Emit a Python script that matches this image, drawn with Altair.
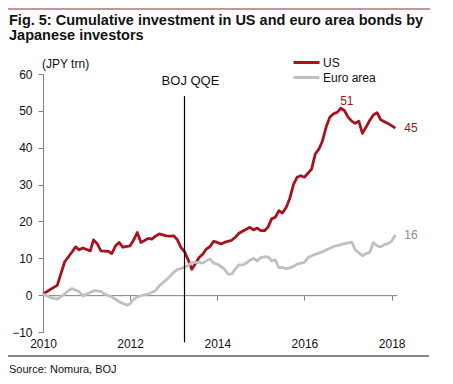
import altair as alt
import pandas as pd

FONT = "Liberation Sans, Arial, sans-serif"

# ---- data ----
us_dates = ["2010-01","2010-04","2010-05","2010-07","2010-09","2010-10","2010-11","2010-12",
            "2011-02","2011-03","2011-04","2011-05","2011-07","2011-08","2011-09","2011-10","2011-11",
            "2012-01","2012-02","2012-03","2012-04","2012-06","2012-07","2012-08","2012-09","2012-11","2012-12",
            "2013-01","2013-02","2013-03","2013-04","2013-05","2013-06","2013-07","2013-08","2013-09","2013-10","2013-11","2013-12",
            "2014-01","2014-02","2014-03","2014-05","2014-06","2014-07","2014-09","2014-10","2014-11","2014-12",
            "2015-01","2015-02","2015-03","2015-04","2015-05","2015-06","2015-07","2015-08","2015-09","2015-10","2015-11","2015-12",
            "2016-01","2016-03","2016-04","2016-05","2016-06","2016-07","2016-08","2016-09","2016-10","2016-11","2016-12",
            "2017-01","2017-02","2017-03","2017-04","2017-05","2017-06","2017-07","2017-08","2017-09","2017-10","2017-12",
            "2018-01","2018-02"]
us_values = [0.3, 2.1, 2.7, 9.0, 11.7, 13.1, 12.3, 12.8,
             12.0, 15.0, 13.9, 12.0, 11.9, 11.3, 13.4, 14.3, 13.0,
             13.4, 15.0, 17.0, 14.3, 15.4, 15.2, 16.0, 16.6, 16.1, 16.0,
             16.1, 15.0, 13.0, 11.8, 9.6, 7.0, 8.5, 10.2, 11.1, 12.5, 13.2, 14.6,
             14.3, 13.9, 14.3, 14.9, 15.7, 16.8, 17.9, 18.4, 17.7, 18.2,
             17.5, 17.5, 18.4, 20.7, 21.1, 22.9, 22.3, 23.8, 26.3, 30.0, 32.0, 32.4,
             32.0, 34.2, 38.3, 39.6, 41.9, 45.6, 48.3, 49.2, 49.6, 50.7, 50.1,
             48.3, 47.2, 46.6, 47.2, 43.9, 45.6, 47.4, 48.9, 49.5, 47.6, 46.6,
             46.0, 45.3]

eu_dates = ["2010-01","2010-03","2010-05","2010-07","2010-08","2010-09","2010-11","2010-12",
            "2011-02","2011-03","2011-05","2011-06","2011-08","2011-09","2011-10","2011-12",
            "2012-01","2012-02","2012-03","2012-05","2012-06","2012-08","2012-09","2012-11","2012-12",
            "2013-01","2013-02","2013-03","2013-04","2013-05","2013-06","2013-08","2013-09","2013-10","2013-11","2013-12",
            "2014-01","2014-03","2014-04","2014-05","2014-06","2014-07","2014-08","2014-09","2014-10","2014-11","2014-12",
            "2015-01","2015-02","2015-03","2015-04","2015-05","2015-06","2015-07","2015-08","2015-09","2015-10","2015-11",
            "2016-01","2016-02","2016-04","2016-05","2016-06","2016-08","2016-09","2016-11","2016-12",
            "2017-02","2017-03","2017-05","2017-06","2017-07","2017-08","2017-09","2017-10","2017-11","2017-12",
            "2018-01","2018-02"]
eu_values = [0.3, -0.6, -1.1, 0.3, 1.2, 1.8, 0.9, -0.2,
             0.7, 1.2, 1.0, 0.3, -0.5, -1.1, -1.8, -2.7,
             -2.4, -1.1, -0.5, 0.1, 0.3, 1.2, 2.5, 4.2, 5.1,
             6.2, 7.0, 7.2, 7.6, 8.0, 8.9, 8.9, 8.7, 9.3, 9.8, 8.7,
             8.4, 7.1, 5.7, 5.7, 7.1, 8.2, 8.2, 8.7, 9.5, 10.0, 9.3,
             10.2, 10.4, 10.4, 9.3, 9.6, 7.5, 7.5, 7.2, 7.4, 7.8, 8.4,
             8.9, 10.2, 11.1, 11.4, 11.8, 12.7, 13.2, 13.7, 14.0,
             14.4, 12.3, 10.7, 11.3, 11.6, 14.3, 13.4, 13.1, 13.7, 14.0,
             14.6, 16.4]

series_names = ["US", "Euro area"]
series_colors = ["#A8121C", "#C0C0C0"]
label_colors = ["#A8121C", "#8C8C8C"]
y_ticks = [-10, 0, 10, 20, 30, 40, 50, 60]
x_tick_years = [2010, 2012, 2014, 2016, 2018]
qqe_date = ["2013-04-01"]
qqe_top = [54]
qqe_bottom = [-12.8]
qqe_label = ["BOJ QQE"]
title_lines = ["Fig. 5: Cumulative investment in US and euro area bonds by", "Japanese investors"]
unit_label = "(JPY trn)"
source_text = "Source: Nomura, BOJ"

assert len(us_dates) == len(us_values) and len(eu_dates) == len(eu_values)

df = pd.concat([
    pd.DataFrame({"date": us_dates, "value": us_values, "series": series_names[0]}),
    pd.DataFrame({"date": eu_dates, "value": eu_values, "series": series_names[1]}),
], ignore_index=True)

us_df = df[df.series == "US"]
eu_df = df[df.series == "Euro area"]
peak = us_df.loc[[us_df.value.idxmax()]].copy()
peak["label"] = peak.value.round().astype(int).astype(str)
ends = pd.concat([us_df.tail(1), eu_df.tail(1)]).copy()
ends["label"] = ends.value.round().astype(int).astype(str)

W, H = 354, 258
zero_offset = H * 60 / 70 - H  # move the x axis line up to y = 0

x_scale = alt.Scale(type="utc",
                    domain=[alt.DateTime(year=2010, month=1, date=1, utc=True),
                            alt.DateTime(year=2018, month=2, date=15, utc=True)])
y_scale = alt.Scale(domain=[-10, 60], nice=False)
color_scale = alt.Scale(domain=series_names, range=series_colors)
label_color_scale = alt.Scale(domain=series_names, range=label_colors)

x_axis = alt.Axis(values=[alt.DateTime(year=y, month=1, date=1, utc=True) for y in x_tick_years],
                  format="%Y", title=None, grid=False, offset=zero_offset, labelOverlap=False,
                  labelFlush=False, domainColor="#808080", tickColor="#808080", tickSize=5,
                  labelPadding=38, labelFontSize=12, labelColor="#111111", labelFont=FONT)
y_axis = alt.Axis(values=y_ticks, title=None, grid=False,
                  labelOverlap=False, domainColor="#808080", tickColor="#808080", tickSize=5,
                  labelPadding=6, labelFontSize=12, labelColor="#111111", labelFont=FONT)


def X(field):
    return alt.X(field, scale=x_scale, axis=x_axis)


def Y(field):
    return alt.Y(field, scale=y_scale, axis=y_axis)


lines = alt.Chart(df).mark_line(strokeWidth=2.8, strokeJoin="round").encode(
    x=X("date:T"),
    y=Y("value:Q"),
    color=alt.Color("series:N", scale=color_scale, sort=series_names,
                    legend=alt.Legend(orient="none", legendX=255, legendY=-20, title=None,
                                      symbolType="M-1.857,0H1.857", symbolSize=196,
                                      symbolStrokeWidth=3, labelFontSize=12, labelFont=FONT,
                                      labelColor="#111111", labelOffset=8, rowPadding=0,
                                      padding=0)),
)

qqe_df = pd.DataFrame({"date": qqe_date, "top": qqe_top, "bottom": qqe_bottom, "label": qqe_label})
qqe_rule = alt.Chart(qqe_df).mark_rule(color="black", strokeWidth=1.2).encode(
    x=X("date:T"), y=Y("top:Q"), y2="bottom:Q")
qqe_text = alt.Chart(qqe_df).mark_text(fontSize=13, font=FONT, color="#111111", dx=6, dy=-8,
                                       baseline="bottom").encode(
    x=X("date:T"), y=Y("top:Q"), text="label:N")

peak_text = alt.Chart(peak).mark_text(fontSize=12, font=FONT, dx=6, dy=-7, baseline="middle").encode(
    x=X("date:T"), y=Y("value:Q"), text="label:N",
    color=alt.Color("series:N", scale=label_color_scale, legend=None))
end_text = alt.Chart(ends).mark_text(fontSize=12, font=FONT, dx=9, dy=0, align="left",
                                     baseline="middle").encode(
    x=X("date:T"), y=Y("value:Q"), text="label:N",
    color=alt.Color("series:N", scale=label_color_scale, legend=None))

one = pd.DataFrame({"k": [0]})


def text_at(txt, x, y, size, weight="normal", baseline="alphabetic"):
    return alt.Chart(one).mark_text(text=txt, fontSize=size, font=FONT, fontWeight=weight,
                                    align="left", baseline=baseline, color="#111111").encode(
        x=alt.value(x), y=alt.value(y))


def hrule(x1, x2, y, color):
    return alt.Chart(one).mark_rule(color=color, strokeWidth=1).encode(
        x=alt.value(x1), x2=alt.value(x2), y=alt.value(y))


deco = [
    hrule(-35, 387, -65, "#8E2A2A"),
    text_at(title_lines[0], -34, -49, 14.5, "bold"),
    text_at(title_lines[1], -34, -34, 14.5, "bold"),
    text_at(unit_label, -1, -10, 12, baseline="middle"),
    hrule(-35, 386, 282, "#111111"),
    text_at(source_text, -34, 296, 11, baseline="middle"),
]

chart = alt.layer(lines, qqe_rule, qqe_text, peak_text, end_text, *deco).resolve_scale(
    color="independent"
).properties(
    width=W, height=H,
    padding={"left": 35, "top": 66, "right": 45, "bottom": 46},
    autosize=alt.AutoSizeParams(type="none"),
    background="white",
).configure_view(stroke=None)

chart.save("out.html", embed_options={"renderer": "svg", "actions": False})
